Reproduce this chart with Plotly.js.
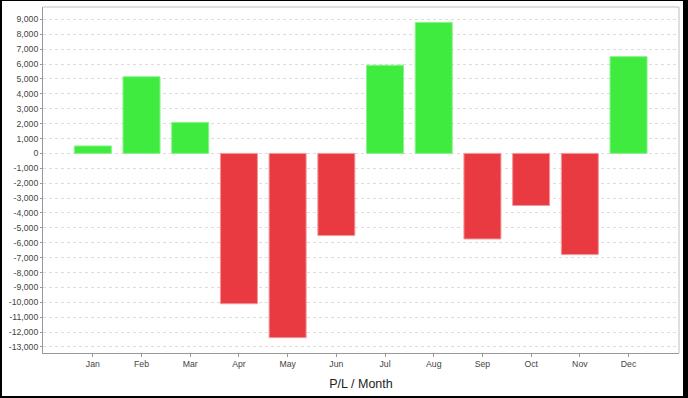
<!DOCTYPE html>
<html>
<head>
<meta charset="utf-8">
<script src="https://cdn.plot.ly/plotly-3.0.1.min.js"></script>
<style>
  html, body { margin: 0; padding: 0; background: #fff; }
  #frame { width: 688px; height: 398px; box-sizing: border-box;
           border-left: 2px solid #000; border-top: 1px solid #000;
           border-right: 5px solid #000; border-bottom: 2px solid #000; }
  #chart { width: 681px; height: 395px; }
</style>
</head>
<body>
<div id="frame"><div id="chart"></div></div>
<script>
const months = ['Jan','Feb','Mar','Apr','May','Jun','Jul','Aug','Sep','Oct','Nov','Dec'];
const profitLoss = [500, 5150, 2080, -10100, -12380, -5520, 5920, 8800, -5750, -3500, -6800, 6500];
const yTickVals = [9000,8000,7000,6000,5000,4000,3000,2000,1000,0,-1000,-2000,-3000,-4000,-5000,-6000,-7000,-8000,-9000,-10000,-11000,-12000,-13000];
const yTickText = ['9,000','8,000','7,000','6,000','5,000','4,000','3,000','2,000','1,000','0','-1,000','-2,000','-3,000','-4,000','-5,000','-6,000','-7,000','-8,000','-9,000','-10,000','-11,000','-12,000','-13,000'];

const GREEN = '#3eeb3e', RED = '#e83a40';
const GREEN_EDGE = '#8af28a', RED_EDGE = '#f09a9d';

const trace = {
  type: 'bar',
  x: months,
  y: profitLoss,
  marker: {
    color: profitLoss.map(v => v >= 0 ? GREEN : RED),
    line: { color: profitLoss.map(v => v >= 0 ? GREEN_EDGE : RED_EDGE), width: 1 }
  },
  hoverinfo: 'x+y'
};

const tickFont = { family: '"Liberation Sans", Arial, sans-serif', size: 8.7, color: '#444' };

const layout = {
  width: 681, height: 395,
  margin: { l: 41, r: 4, t: 6, b: 43, pad: 0 },
  paper_bgcolor: '#fff', plot_bgcolor: '#fff',
  showlegend: false,
  bargap: 0.24,
  xaxis: {
    type: 'category',
    range: [-1.023, 12.036],
    showgrid: false, zeroline: false,
    showline: true, linecolor: '#999', linewidth: 1,
    ticks: 'outside', ticklen: 3, tickcolor: '#999',
    tickfont: tickFont,
    title: { text: 'P/L / Month', font: { family: '"Liberation Sans", Arial, sans-serif', size: 12.5, color: '#222' }, standoff: 10 }
  },
  yaxis: {
    range: [-13410, 9834],
    tickvals: yTickVals, ticktext: yTickText,
    showgrid: true, gridcolor: '#dcdcdc', griddash: '3px,3px', gridwidth: 1,
    zeroline: false,
    showline: true, linecolor: '#999', linewidth: 1,
    ticks: 'outside', ticklen: 2, tickcolor: '#999',
    tickfont: tickFont
  },
  shapes: [
    { type: 'line', xref: 'paper', yref: 'paper', x0: 0, x1: 1, y0: 1, y1: 1, line: { color: '#c0c0c0', width: 1 } },
    { type: 'line', xref: 'paper', yref: 'paper', x0: 1, x1: 1, y0: 0, y1: 1, line: { color: '#c0c0c0', width: 1 } }
  ]
};

Plotly.newPlot('chart', [trace], layout, { displayModeBar: false, staticPlot: true });
</script>
</body>
</html>
